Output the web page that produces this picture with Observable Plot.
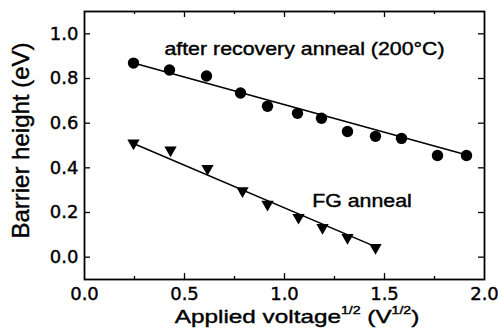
<!DOCTYPE html>
<html><head><meta charset="utf-8">
<script src="https://cdn.jsdelivr.net/npm/d3@7"></script>
<script src="https://cdn.jsdelivr.net/npm/@observablehq/plot@0.6"></script>
<style>
body{margin:0;background:#fff;}
svg text{white-space:pre;stroke:#000;stroke-width:0.4px;}
</style></head><body><div id="chart"></div>
<script>
// ---- data ----
const recoveryX = [0.245,0.425,0.61,0.78,0.915,1.065,1.185,1.315,1.455,1.585,1.765,1.91];
const recoveryY = [0.869,0.838,0.811,0.735,0.676,0.644,0.622,0.563,0.541,0.532,0.455,0.455];
const fgX = [0.245,0.43,0.615,0.79,0.915,1.07,1.19,1.315,1.455];
const fgY = [0.504,0.473,0.390,0.290,0.230,0.171,0.126,0.081,0.036];
const recoveryFitX = [0.245,1.885];
const recoveryFitY = [0.869,0.464];
const fgFitX = [0.245,1.46];
const fgFitY = [0.509,0.045];
const xTicks = [0,0.5,1,1.5,2];
const xMinorTicks = [0.25,0.75,1.25,1.75];
const yTicks = [0,0.2,0.4,0.6,0.8,1.0];
const annotations = ["after recovery anneal (200°C)","FG anneal"];
const annotationX = [1.10,1.3875];
const annotationY = [0.905,0.225];
const xLabelMain = "Applied voltage";
const xLabelSup = "1/2";
const xLabelUnit = "V";
const yLabel = "Barrier height (eV)";

// ---- layout ----
const W = 498, H = 335, mt = 11, mb = 56, ml = 84, mr = 14;
const fh = H - mt - mb, fw = W - ml - mr;
const font = "'Liberation Sans', Arial, sans-serif";
const tickFont = "'DejaVu Sans', sans-serif";

const triangleDown = {
  draw(ctx, size) {
    const a = Math.sqrt(size / Math.PI);
    ctx.moveTo(-1.1 * a, -0.9 * a);
    ctx.lineTo(1.1 * a, -0.9 * a);
    ctx.lineTo(0, 1.0 * a);
    ctx.closePath();
  }
};

const recPts = recoveryX.map((x, i) => ({x, y: recoveryY[i]}));
const fgPts = fgX.map((x, i) => ({x, y: fgY[i]}));
const recFit = recoveryFitX.map((x, i) => ({x, y: recoveryFitY[i]}));
const fgFit = fgFitX.map((x, i) => ({x, y: fgFitY[i]}));
const majInner = xTicks.slice(1, -1);

const plot = Plot.plot({
  width: W, height: H,
  marginTop: mt, marginBottom: mb, marginLeft: ml, marginRight: mr,
  style: {fontFamily: font, fontSize: "18px", color: "#000", background: "#fff"},
  x: {domain: [0, 2]},
  y: {domain: [-0.1, 1.1]},
  marks: [
    Plot.axisX(xTicks, {tickSize: 0, tickPadding: 8, tickFormat: d3.format(".1f"), label: null, fontSize: 18, fontFamily: tickFont}),
    Plot.axisY(yTicks, {tickSize: 0, tickPadding: 6, tickFormat: d3.format(".1f"), label: null, fontSize: 18, fontFamily: tickFont}),
    // inward ticks, bottom & top
    Plot.tickX(majInner, {x: d => d, insetTop: fh - 6, strokeWidth: 1.3}),
    Plot.tickX(majInner, {x: d => d, insetBottom: fh - 6, strokeWidth: 1.3}),
    Plot.tickX(xMinorTicks, {x: d => d, insetTop: fh - 3, strokeWidth: 1.3}),
    Plot.tickX(xMinorTicks, {x: d => d, insetBottom: fh - 3, strokeWidth: 1.3}),
    // inward ticks, left & right
    Plot.tickY(yTicks, {y: d => d, insetRight: fw - 6, strokeWidth: 1.3}),
    Plot.tickY(yTicks, {y: d => d, insetLeft: fw - 6, strokeWidth: 1.3}),
    Plot.frame({stroke: "#000", strokeWidth: 1.8}),
    Plot.line(recFit, {x: "x", y: "y", stroke: "#000", strokeWidth: 1.5}),
    Plot.line(fgFit, {x: "x", y: "y", stroke: "#000", strokeWidth: 1.5}),
    Plot.dot(recPts, {x: "x", y: "y", r: 5.7, fill: "#000", stroke: "none", symbol: "circle"}),
    Plot.dot(fgPts, {x: "x", y: "y", r: 5.6, fill: "#000", stroke: "none", symbol: triangleDown}),
    Plot.text(annotations, {x: annotationX, y: annotationY, text: d => d, lineAnchor: "bottom", textAnchor: "middle", fontSize: 17.5, fill: "#000"})
  ]
});

const svg = d3.select(plot);

function stretch(sel, s) {
  sel.each(function() {
    const x = +this.getAttribute("x") || 0, y = +this.getAttribute("y") || 0;
    const t = this.getAttribute("transform") || "";
    this.setAttribute("x", 0); this.setAttribute("y", 0);
    this.setAttribute("transform", `${t} translate(${x},${y}) scale(${s},1)`);
  });
}
stretch(svg.selectAll("g[aria-label='text'] text"), 1.22);

const xs = plot.scale("x"), ys = plot.scale("y");

// x-axis label with superscripts
const xl = svg.append("text")
  .attr("transform", `translate(${xs.apply(1.065)},${H - 12}) scale(1.28,1)`)
  .attr("text-anchor", "middle")
  .attr("font-family", font)
  .attr("font-size", 19)
  .attr("fill", "#000");
xl.append("tspan").text(xLabelMain);
xl.append("tspan").attr("font-size", 11).attr("dy", -9).text(xLabelSup);
xl.append("tspan").attr("dy", 9).text(" (" + xLabelUnit);
xl.append("tspan").attr("font-size", 11).attr("dy", -9).text(xLabelSup);
xl.append("tspan").attr("dy", 9).text(")");

// y-axis label
svg.append("text")
  .attr("transform", `translate(29,${ys.apply(0.52)}) rotate(-90)`)
  .attr("text-anchor", "middle")
  .attr("font-family", font)
  .attr("font-size", 24)
  .attr("fill", "#000")
  .text(yLabel);

document.getElementById("chart").appendChild(plot);
</script>
</body></html>
